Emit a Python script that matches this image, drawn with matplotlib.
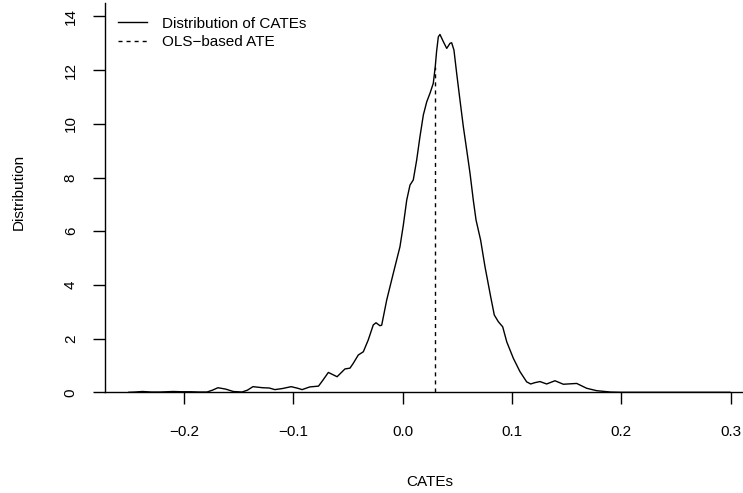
import matplotlib
matplotlib.use("Agg")
import matplotlib.pyplot as plt

plt.rcParams['font.family'] = ['Liberation Sans', 'DejaVu Sans']
plt.rcParams['lines.scale_dashes'] = False

# Density of CATEs
cate_x = [-0.2506, -0.245, -0.238, -0.230, -0.222, -0.210, -0.202, -0.194, -0.186,
          -0.179, -0.174, -0.169, -0.162, -0.155, -0.147, -0.142, -0.137, -0.128,
          -0.122, -0.117, -0.110, -0.102, -0.096, -0.092, -0.085, -0.077, -0.073,
          -0.068, -0.064, -0.060, -0.0528, -0.0482, -0.0452, -0.0406, -0.036,
          -0.0315, -0.0269, -0.0244, -0.0208, -0.0192, -0.0146, -0.0086, -0.0025,
          0.0006, 0.0037, 0.0067, 0.0097, 0.0128, 0.0158, 0.0189, 0.022, 0.025,
          0.028, 0.0298, 0.031, 0.0326, 0.0341, 0.0372, 0.0403, 0.0433, 0.0448,
          0.0469, 0.0494, 0.0524, 0.0555, 0.0586, 0.0616, 0.0646, 0.0671, 0.0713,
          0.0753, 0.0805, 0.0838, 0.0875, 0.0915, 0.0952, 0.1012, 0.1073, 0.1134,
          0.1171, 0.121, 0.1256, 0.1317, 0.1393, 0.147, 0.1592, 0.1683, 0.1775,
          0.19, 0.2, 0.2994]
density_y = [0.00, 0.01, 0.03, 0.01, 0.01, 0.03, 0.02, 0.02, 0.01,
             0.01, 0.08, 0.17, 0.12, 0.03, 0.01, 0.08, 0.21, 0.17,
             0.16, 0.10, 0.14, 0.21, 0.15, 0.10, 0.20, 0.23, 0.45,
             0.74, 0.66, 0.58, 0.87, 0.90, 1.08, 1.39, 1.51,
             1.95, 2.51, 2.59, 2.48, 2.50, 3.44, 4.43, 5.42,
             6.23, 7.16, 7.72, 7.91, 8.65, 9.52, 10.33, 10.82, 11.14,
             11.51, 12.13, 12.69, 13.24, 13.33, 13.06, 12.81, 13.00, 13.02,
             12.75, 11.88, 10.89, 9.89, 9.02, 8.16, 7.16, 6.42, 5.67,
             4.68, 3.56, 2.88, 2.63, 2.44, 1.88, 1.27, 0.77, 0.39,
             0.31, 0.36, 0.40, 0.31, 0.43, 0.30, 0.33, 0.15, 0.06,
             0.01, 0.00, 0.00]

ate_value = 0.0298
ate_height = 12.13

x_ticks = [-0.2, -0.1, 0.0, 0.1, 0.2, 0.3]
x_tick_labels = ["\u22120.2", "\u22120.1", "0.0", "0.1", "0.2", "0.3"]
y_ticks = [0, 2, 4, 6, 8, 10, 12, 14]
y_tick_labels = ["0", "2", "4", "6", "8", "10", "12", "14"]

W, H = 743, 493
fig = plt.figure(figsize=(W / 100, H / 100), dpi=100)
ax = fig.add_axes([104.7 / W, (H - 392.3) / H, (754 - 104.7) / W, 389 / H])

fs = 11
ax.plot(cate_x, density_y, color='black', lw=1.0, label='Distribution of CATEs')
ax.vlines(ate_value, 0, ate_height, colors='black', lw=1.0,
          linestyles=(0, (2.9, 2.9)), label='OLS\u2212based ATE')

ax.set_xlim(-0.2726, 0.3214)
ax.set_ylim(0, 14.49)

ax.spines['top'].set_visible(False)
ax.spines['right'].set_visible(False)
for s in ('left', 'bottom'):
    ax.spines[s].set_linewidth(1.0)

ax.set_xticks(x_ticks)
ax.set_xticklabels(x_tick_labels, fontsize=fs)
ax.set_yticks(y_ticks)
ax.set_yticklabels(y_tick_labels, fontsize=fs, rotation=90, va='center')
ax.tick_params(axis='x', length=8.9, width=1.0, pad=14.5)
ax.tick_params(axis='y', length=8.9, width=1.0, pad=10.5)

ax.set_xlabel('CATEs', fontsize=fs)
ax.xaxis.label.set_va('center')
ax.xaxis.set_label_coords(0.5, (392.3 - 482) / 389)
ax.set_ylabel('Distribution', fontsize=fs)
ax.yaxis.label.set_va('center')
ax.yaxis.set_label_coords((19 - 104.7) / 649.3, (392.3 - 192) / 389)

ax.legend(loc='upper left', bbox_to_anchor=((118 - 104.7) / 649.3, (392.3 - 16.5) / 389),
          frameon=False, fontsize=fs, handlelength=1.88, handletextpad=0.98,
          borderpad=0, borderaxespad=0, labelspacing=0.3)

fig.savefig('out.png', dpi=100)
